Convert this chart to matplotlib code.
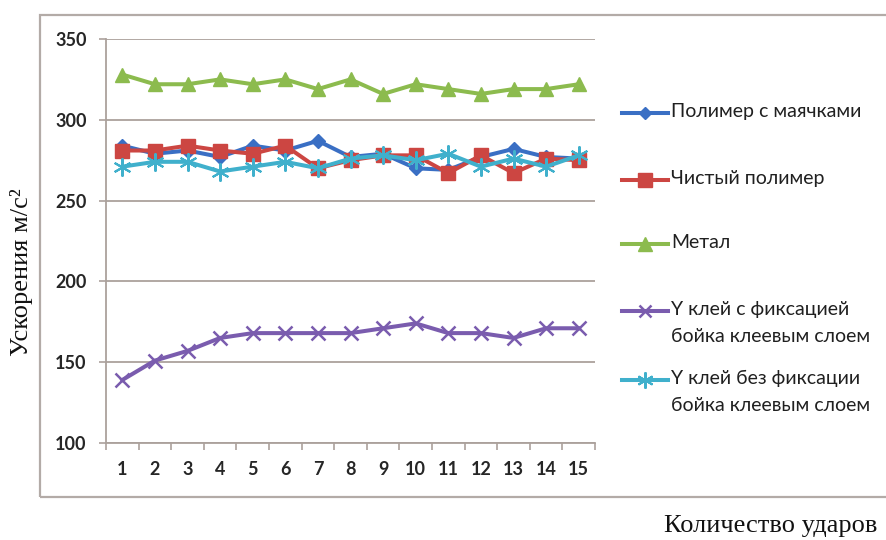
import matplotlib
matplotlib.use("Agg")
import matplotlib.pyplot as plt
from matplotlib.lines import Line2D
from matplotlib.patches import Rectangle

# Impact number
impacts = list(range(1, 16))

# Acceleration, m/s^2
polymer_beacons = [284, 279, 281, 277, 284, 281, 287, 277, 279, 270, 269, 277, 282, 277, 276]
pure_polymer = [281, 281, 284, 281, 279, 284, 270, 275, 278, 278, 267, 278, 267, 276, 275]
metal = [328, 322, 322, 325, 322, 325, 319, 325, 316, 322, 319, 316, 319, 319, 322]
glue_fixed = [139, 151, 157, 165, 168, 168, 168, 168, 171, 174, 168, 168, 165, 171, 171]
glue_free = [271, 274, 274, 268, 271, 274, 270, 276, 278, 275, 279, 271, 276, 271, 278]

series_labels = [
    "Полимер с маячками",
    "Чистый полимер",
    "Метал",
    "Y клей с фиксацией\nбойка клеевым слоем",
    "Y клей без фиксации\nбойка клеевым слоем",
]
y_ticks = [100, 150, 200, 250, 300, 350]

W, H = 886, 540
fig = plt.figure(figsize=(W / 100, H / 100), dpi=100)
fig.patch.set_facecolor("white")

def fx(px):
    return px / W

def fy(py):
    return 1 - py / H

ax = fig.add_axes([fx(106), fy(443), fx(595) - fx(106), fy(39) - fy(443)])

styles = [
    dict(color="#3a6fc4", marker="D", ms=7, mew=1),
    dict(color="#cc4642", marker="s", ms=10.5, mew=1),
    dict(color="#8cbb4e", marker="^", ms=10.5, mew=1),
    dict(color="#7a5cae", marker="x", ms=10, mew=1.8),
    dict(color="#40b0cc", marker=(6, 2, 0), ms=13, mew=1.5),
]
data = [polymer_beacons, pure_polymer, metal, glue_fixed, glue_free]

for vals, st in zip(data, styles):
    ax.plot(impacts, vals, lw=2.9, color=st["color"], marker=st["marker"],
            ms=st["ms"], mew=st["mew"], mfc=st["color"], mec=st["color"],
            solid_joinstyle="round", zorder=3)

grid_col = "#aba19c"
ax.set_xlim(0.5, 15.5)
ax.set_ylim(100, 350)
ax.set_yticks(y_ticks)
ax.yaxis.grid(True, color=grid_col, lw=1.3)
ax.set_axisbelow(True)
for side in ["top", "right"]:
    ax.spines[side].set_visible(False)
for side in ["left", "bottom"]:
    ax.spines[side].set_color(grid_col)
    ax.spines[side].set_linewidth(1.3)

ax.set_xticks(impacts)
ax.set_xticks([i + 0.5 for i in range(0, 16)], minor=True)
ax.tick_params(axis="x", which="major", length=0, pad=13)
ax.tick_params(axis="x", which="minor", length=5, width=1.2, color=grid_col)
ax.tick_params(axis="y", length=5, width=1.2, color=grid_col, pad=9)

sans = ["Lato", "DejaVu Sans"]
for lab in ax.get_xticklabels() + ax.get_yticklabels():
    lab.set_fontfamily(sans)
    lab.set_fontsize(13)
    lab.set_fontweight("bold")
    lab.set_color("#262626")

# Chart-area frame
fig.add_artist(Rectangle((fx(40), fy(497)), fx(900) - fx(40), fy(15) - fy(497),
                         transform=fig.transFigure, fill=False,
                         edgecolor="#b3aba7", lw=1.6, clip_on=False))

# Legend entries
legend_rows = [113, 180, 244, 311, 380]
for label, st, row in zip(series_labels, styles, legend_rows):
    y = fy(row)
    fig.add_artist(Line2D([fx(622), fx(645), fx(668)], [y, y, y],
                          transform=fig.transFigure, color=st["color"], lw=2.9,
                          marker=st["marker"], markevery=[1], ms=st["ms"] * 0.9,
                          mew=st["mew"], mfc=st["color"], mec=st["color"]))
    fig.text(fx(671), y + 0.0185, label, ha="left", va="top",
             family=sans, fontsize=14, color="#202020", linespacing=1.72)

serif = ["Liberation Serif", "DejaVu Serif"]
fig.text(fx(22), fy(272), "Ускорения м/с²", rotation=90, ha="center",
         va="center", family=serif, fontsize=19, color="#111111")
fig.text(fx(877), fy(526), "Количество ударов", ha="right", va="center",
         family=serif, fontsize=19, color="#111111")

fig.savefig("out.png", dpi=100, facecolor="white")
